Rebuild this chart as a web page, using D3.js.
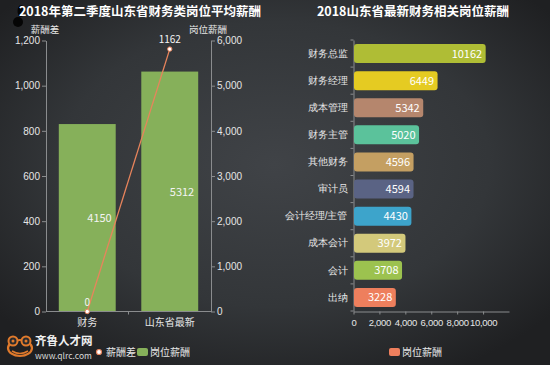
<!DOCTYPE html>
<html><head><meta charset="utf-8">
<script src="https://cdn.jsdelivr.net/npm/d3@7"></script>
<style>
html,body{margin:0;padding:0;background:#2b2d30;}
svg{display:block;font-family:"Noto Sans CJK SC","Noto Sans",sans-serif;}
</style></head><body>
<script>
// ---- data ----
const leftCategories = ["财务", "山东省最新"];
const salaryValues = [4150, 5312];      // 岗位薪酬 (right axis)
const diffValues = [0, 1162];           // 薪酬差 (left axis)
const leftTicks = [0, 200, 400, 600, 800, 1000, 1200];
const rightTicks = [0, 1000, 2000, 3000, 4000, 5000, 6000];

const jobCategories = ["财务总监", "财务经理", "成本管理", "财务主管", "其他财务", "审计员", "会计经理/主管", "成本会计", "会计", "出纳"];
const jobValues = [10162, 6449, 5342, 5020, 4596, 4594, 4430, 3972, 3708, 3228];
const jobColors = ["#afbd35", "#e5cb22", "#b5866d", "#5bc29b", "#c49f62", "#5a6384", "#3da4cb", "#d3c97b", "#9cc24f", "#ee7f5d"];
const jobTicks = [0, 2000, 4000, 6000, 8000, 10000];

const W = 550, H = 365;
const fmt = d3.format(",");
const svg = d3.select("body").append("svg").attr("width", W).attr("height", H);

// background
const defs = svg.append("defs");
const rg = defs.append("radialGradient").attr("id", "bg").attr("cx", "50%").attr("cy", "45%").attr("r", "65%");
rg.append("stop").attr("offset", "0%").attr("stop-color", "#404347");
rg.append("stop").attr("offset", "60%").attr("stop-color", "#333639");
rg.append("stop").attr("offset", "100%").attr("stop-color", "#1f2022");
svg.append("rect").attr("width", W).attr("height", H).attr("fill", "url(#bg)");

// top-left blob
svg.append("ellipse").attr("cx", 21).attr("cy", 11).attr("rx", 3.5).attr("ry", 6).attr("fill", "#050505");
svg.append("circle").attr("cx", 18).attr("cy", 22).attr("r", 5).attr("fill", "#050505");

const txtCol = "#e6e6e6", axisCol = "#8a8c8e";

// titles
svg.append("text").attr("x", 140).attr("y", 16).attr("text-anchor", "middle").attr("fill", "#fff")
  .attr("font-size", 12.5).attr("font-weight", "bold").text("2018年第二季度山东省财务类岗位平均薪酬");
svg.append("text").attr("x", 413).attr("y", 16).attr("text-anchor", "middle").attr("fill", "#fff")
  .attr("font-size", 12.5).attr("font-weight", "bold").text("2018山东省最新财务相关岗位薪酬");

// ---- left chart ----
const lx = d3.scaleBand().domain(leftCategories).range([46, 211]).paddingInner(0.31).paddingOuter(0.155);
const yL = d3.scaleLinear().domain([0, 1200]).range([311.5, 40.5]);
const yR = d3.scaleLinear().domain([0, 6000]).range([311.5, 40.5]);

function styleAxis(g) {
  g.selectAll("path,line").attr("stroke", axisCol);
  g.selectAll("text").attr("fill", txtCol).attr("font-size", 10);
}
svg.append("g").attr("transform", "translate(46,0)")
  .call(d3.axisLeft(yL).tickValues(leftTicks).tickFormat(fmt).tickSize(4).tickSizeOuter(0)).call(styleAxis)
  .call(g => g.selectAll("text").attr("dx", 1));
svg.append("g").attr("transform", "translate(211,0)")
  .call(d3.axisRight(yR).tickValues(rightTicks).tickFormat(fmt).tickSize(4).tickSizeOuter(0)).call(styleAxis)
  .call(g => g.selectAll("text").attr("dx", -1));

svg.append("text").attr("x", 45).attr("y", 32.5).attr("text-anchor", "middle").attr("fill", txtCol).attr("font-size", 9.5).text("薪酬差");
svg.append("text").attr("x", 208).attr("y", 32.5).attr("text-anchor", "middle").attr("fill", txtCol).attr("font-size", 9.5).text("岗位薪酬");

// bars
svg.append("g").selectAll("rect").data(leftCategories).join("rect")
  .attr("x", d => lx(d)).attr("width", lx.bandwidth())
  .attr("y", (d, i) => yR(salaryValues[i])).attr("height", (d, i) => yR(0) - yR(salaryValues[i]))
  .attr("fill", "#86b05a");
svg.append("g").selectAll("text").data(leftCategories).join("text")
  .attr("x", d => lx(d) + lx.bandwidth() - 4)
  .attr("y", (d, i) => (yR(salaryValues[i]) + yR(0)) / 2 + 4)
  .attr("text-anchor", "end").attr("fill", "#f4f4f4").attr("font-size", 11)
  .text((d, i) => salaryValues[i]);

// x axis
const xAx = svg.append("g").attr("transform", "translate(0,311.5)");
xAx.append("line").attr("x1", 46).attr("x2", 211).attr("stroke", axisCol);
xAx.append("line").attr("x1", 128.5).attr("x2", 128.5).attr("y1", 0).attr("y2", 3).attr("stroke", axisCol);
xAx.selectAll("text").data(leftCategories).join("text")
  .attr("x", d => lx(d) + lx.bandwidth() / 2).attr("y", 14).attr("text-anchor", "middle")
  .attr("fill", txtCol).attr("font-size", 10).text(d => d);

// line
const cx = d => lx(d) + lx.bandwidth() / 2;
const line = d3.line().x(d => cx(d)).y((d, i) => yL(diffValues[i]));
svg.append("path").datum(leftCategories).attr("d", line).attr("fill", "none").attr("stroke", "#e8845c").attr("stroke-width", 1.3);
svg.append("g").selectAll("circle").data(leftCategories).join("circle")
  .attr("cx", cx).attr("cy", (d, i) => yL(diffValues[i])).attr("r", 2.2)
  .attr("fill", "#fff").attr("stroke", "#e8845c").attr("stroke-width", 1);
svg.append("g").selectAll("text").data(leftCategories).join("text")
  .attr("x", cx).attr("y", (d, i) => yL(diffValues[i]) - 6).attr("text-anchor", "middle")
  .attr("fill", "#f4f4f4").attr("font-size", 10).text((d, i) => diffValues[i]);

// left legend
svg.append("circle").attr("cx", 99).attr("cy", 352).attr("r", 2.5).attr("fill", "#fff").attr("stroke", "#e8845c").attr("stroke-width", 1.2);
svg.append("text").attr("x", 106).attr("y", 355.5).attr("fill", txtCol).attr("font-size", 10).text("薪酬差");
svg.append("rect").attr("x", 137).attr("y", 348).attr("width", 11).attr("height", 8).attr("rx", 2).attr("fill", "#86b05a");
svg.append("text").attr("x", 150).attr("y", 355.5).attr("fill", txtCol).attr("font-size", 10).text("岗位薪酬");

// logo
const logo = svg.append("g");
logo.append("ellipse").attr("cx", 20).attr("cy", 348).attr("rx", 12).attr("ry", 8).attr("fill", "none").attr("stroke", "#e07a2c").attr("stroke-width", 2.2);
logo.append("circle").attr("cx", 13).attr("cy", 341).attr("r", 4.5).attr("fill", "#2a2b2e").attr("stroke", "#e07a2c").attr("stroke-width", 2);
logo.append("circle").attr("cx", 26).attr("cy", 341).attr("r", 4.5).attr("fill", "#2a2b2e").attr("stroke", "#e07a2c").attr("stroke-width", 2);
logo.append("circle").attr("cx", 13).attr("cy", 341).attr("r", 1.5).attr("fill", "#e07a2c");
logo.append("circle").attr("cx", 26).attr("cy", 341).attr("r", 1.5).attr("fill", "#e07a2c");
logo.append("path").attr("d", "M12,351 Q20,356 28,351").attr("fill", "none").attr("stroke", "#e07a2c").attr("stroke-width", 1.5);
logo.append("text").attr("x", 35).attr("y", 344.5).attr("fill", "#f0f0f0").attr("font-size", 11.5).attr("font-weight", "bold").text("齐鲁人才网");
logo.append("text").attr("x", 35).attr("y", 358.5).attr("fill", "#d8d8d8").attr("font-size", 8.5).text("www.qlrc.com");

// ---- right chart ----
const ry = d3.scaleBand().domain(jobCategories).range([40, 311]).paddingInner(0.3).paddingOuter(0.15);
const rx = d3.scaleLinear().domain([0, 12000]).range([353.5, 509]);

svg.append("g").attr("transform", "translate(353.5,0)")
  .call(d3.axisLeft(ry).tickSize(0).tickPadding(6)).call(styleAxis)
  .call(g => g.selectAll("text").attr("font-size", 10));
// category boundary ticks
svg.append("g").selectAll("line").data(d3.range(jobCategories.length + 1)).join("line")
  .attr("x1", 350.5).attr("x2", 353.5)
  .attr("y1", i => 40 + i * ry.step() ).attr("y2", i => 40 + i * ry.step())
  .attr("stroke", axisCol);

svg.append("g").attr("transform", "translate(0,311.5)")
  .call(d3.axisBottom(rx).tickValues(jobTicks).tickFormat(fmt).tickSize(3).tickSizeOuter(0)).call(styleAxis)
  .call(g => g.selectAll("text").attr("dy", "0.9em").attr("font-size", 9.5).attr("letter-spacing", -0.3));

svg.append("g").selectAll("rect").data(jobCategories).join("rect")
  .attr("x", rx(0) + 0.5).attr("y", d => ry(d)).attr("height", ry.bandwidth())
  .attr("width", (d, i) => rx(jobValues[i]) - rx(0))
  .attr("rx", 3).attr("fill", (d, i) => jobColors[i]);
svg.append("g").selectAll("text").data(jobCategories).join("text")
  .attr("x", (d, i) => rx(jobValues[i]) - 3).attr("y", d => ry(d) + ry.bandwidth() / 2 + 4)
  .attr("text-anchor", "end").attr("fill", "#fff").attr("font-size", 11)
  .text((d, i) => jobValues[i]);

// right legend
svg.append("rect").attr("x", 389).attr("y", 348).attr("width", 11).attr("height", 8).attr("rx", 2).attr("fill", "#ee7f5d");
svg.append("text").attr("x", 402).attr("y", 355.5).attr("fill", txtCol).attr("font-size", 10).text("岗位薪酬");
</script>
</body></html>
